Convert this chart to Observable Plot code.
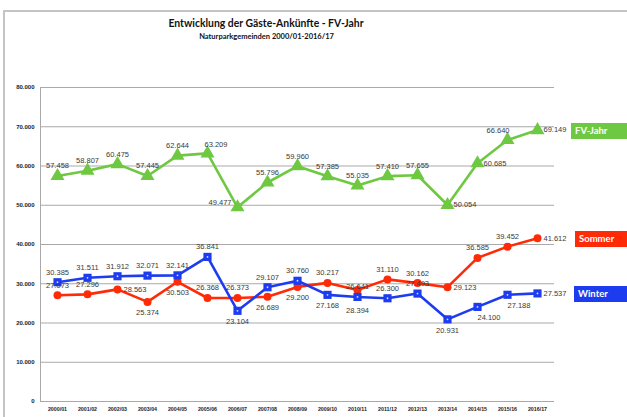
<!DOCTYPE html>
<html>
<head>
<meta charset="utf-8">
<script src="https://cdn.jsdelivr.net/npm/d3@7"></script>
<script src="https://cdn.jsdelivr.net/npm/@observablehq/plot@0.6"></script>
<style>
  html, body { margin: 0; padding: 0; background: #fff; }
  #wrap { position: relative; width: 627px; height: 417px; overflow: hidden; font-family: "Liberation Sans", Arial, sans-serif; }
  #frame { position: absolute; left: 3px; top: 10px; width: 640px; height: 420px; border-left: 2px solid #c4c4c4; border-top: 2px solid #c4c4c4; }
  #header { position: relative; height: 50px; width: 627px; }
  #title { position: absolute; left: 0; width: 532px; top: 17px; text-align: center; font-family: Lato, sans-serif; font-weight: bold; font-size: 10.4px; color: #111; }
  #subtitle { position: absolute; left: 0; width: 533px; top: 32px; text-align: center; font-family: Lato, sans-serif; font-weight: bold; font-size: 7.5px; color: #111; }
  #chart { position: relative; }
  .lg { position: absolute; height: 16px; line-height: 16px; color: #fff; font-family: Lato, sans-serif; font-weight: bold; font-size: 9.5px; padding-left: 4px; box-sizing: border-box; }
</style>
</head>
<body>
<div id="wrap">
  <div id="frame"></div>
  <div id="header">
    <div id="title">Entwicklung der Gäste-Ankünfte - FV-Jahr</div>
    <div id="subtitle">Naturparkgemeinden 2000/01-2016/17</div>
  </div>
  <div id="chart"></div>
</div>
<script>
const categories = ["2000/01","2001/02","2002/03","2003/04","2004/05","2005/06","2006/07","2007/08","2008/09","2009/10","2010/11","2011/12","2012/13","2013/14","2014/15","2015/16","2016/17"];
const fvJahr = [57458,58807,60475,57445,62644,63209,49477,55796,59960,57385,55035,57410,57655,50054,60685,66640,69149];
const sommer = [27073,27296,28563,25374,30503,26368,26373,26689,29200,30217,28394,31110,30162,29123,36585,39452,41612];
const winter = [30385,31511,31912,32071,32141,36841,23104,29107,30760,27168,26641,26300,27493,20931,24100,27188,27537];
const yTicks = [0,10000,20000,30000,40000,50000,60000,70000,80000];
const seriesNames = ["FV-Jahr","Sommer","Winter"];
const seriesColors = ["#6fc841","#ff2a06","#1d3cf0"];

// label placement codes (style, kept apart from the data)
const fvPos =     ["t","t","t","t","t","tr","l","t","t","t","t","t","t","r","r","tl","r"];
const sommerPos = ["t","t","r","b","b","t","t","b","b","t","bb","t","t","r","t","t","r"];
const winterPos = ["t","t","t","t","t","t","b","t","t","b","t","t","t","b","br","br","r"];

const loc = d3.formatLocale({decimal: ",", thousands: ".", grouping: [3], currency: ["", "€"]});
const fmt = loc.format(",");

const build = (vals, name, pos) => categories.map((c, i) => ({cat: c, value: vals[i], series: name, pos: pos[i]}));
const fvRows = build(fvJahr, "FV-Jahr", fvPos);
const soRows = build(sommer, "Sommer", sommerPos);
const wiRows = build(winter, "Winter", winterPos);
const all = [...fvRows, ...soRows, ...wiRows];

const placements = {
  t:  {textAnchor: "middle", dx: 0, dy: -10},
  b:  {textAnchor: "middle", dx: 0, dy: 11},
  l:  {textAnchor: "end", dx: -6, dy: -5},
  r:  {textAnchor: "start", dx: 6, dy: 0},
  tr: {textAnchor: "start", dx: -3, dy: -9},
  tl: {textAnchor: "end", dx: 2, dy: -9},
  br: {textAnchor: "start", dx: 0, dy: 11},
  bb: {textAnchor: "middle", dx: 0, dy: 21}
};
const labelMarks = Object.entries(placements).map(([k, p]) =>
  Plot.text(all.filter(d => d.pos === k), {
    x: "cat", y: "value", text: d => fmt(d.value),
    textAnchor: p.textAnchor, dx: p.dx, dy: p.dy, lineAnchor: "middle",
    fill: "#3a3a3a", fontSize: 7.5, fontFamily: "Liberation Sans, Arial, sans-serif"
  })
);

const plot = Plot.plot({
  width: 627,
  height: 367,
  marginTop: 37,
  marginBottom: 16,
  marginLeft: 40,
  marginRight: 73,
  style: {background: "transparent", fontFamily: "Liberation Sans, Arial, sans-serif"},
  x: {type: "band", domain: categories, padding: 0, label: null},
  y: {domain: [0, 80000], label: null},
  color: {domain: seriesNames, range: seriesColors},
  marks: [
    Plot.gridY(yTicks, {stroke: "#a9a9a9", strokeOpacity: 1, strokeWidth: 1}),
    Plot.ruleY([0], {stroke: "#a9a9a9", strokeWidth: 1}),
    Plot.frame({anchor: "left", stroke: "#a9a9a9", strokeWidth: 1}),
    Plot.axisY(yTicks, {tickSize: 0, tickPadding: 6, tickFormat: fmt, fontSize: 6, fontWeight: "bold", fill: "#222", label: null}),
    Plot.axisX({tickSize: 0, tickPadding: 6, fontSize: 5.3, fontWeight: "bold", fill: "#222", label: null}),
    Plot.lineY(all, {x: "cat", y: "value", z: "series", stroke: "series", strokeWidth: 2.6}),
    Plot.dot(fvRows, {x: "cat", y: "value", symbol: "triangle", r: 5.2, fill: seriesColors[0]}),
    Plot.dot(soRows, {x: "cat", y: "value", symbol: "circle", r: 4, fill: seriesColors[1]}),
    Plot.dot(wiRows, {x: "cat", y: "value", symbol: "square", r: 4.6, fill: seriesColors[2]}),
    Plot.dot(wiRows, {x: "cat", y: "value", r: 0.9, fill: "#ffffff", fillOpacity: 0.8}),
    ...labelMarks
  ]
});
document.getElementById("chart").appendChild(plot);

// legend boxes placed with the plot's y scale at each series' last value
const ys = plot.scale("y");
const lastIdx = categories.length - 1;
const legendX = {"FV-Jahr": 571, "Sommer": 575, "Winter": 574};
[["FV-Jahr", fvJahr], ["Sommer", sommer], ["Winter", winter]].forEach(([name, vals], i) => {
  const d = document.createElement("div");
  d.className = "lg";
  d.textContent = name;
  d.style.background = seriesColors[i];
  d.style.left = legendX[name] + "px";
  d.style.width = (627 - legendX[name]) + "px";
  d.style.top = (50 + ys.apply(vals[lastIdx]) - 7) + "px";
  document.getElementById("wrap").appendChild(d);
});
</script>
</body>
</html>
